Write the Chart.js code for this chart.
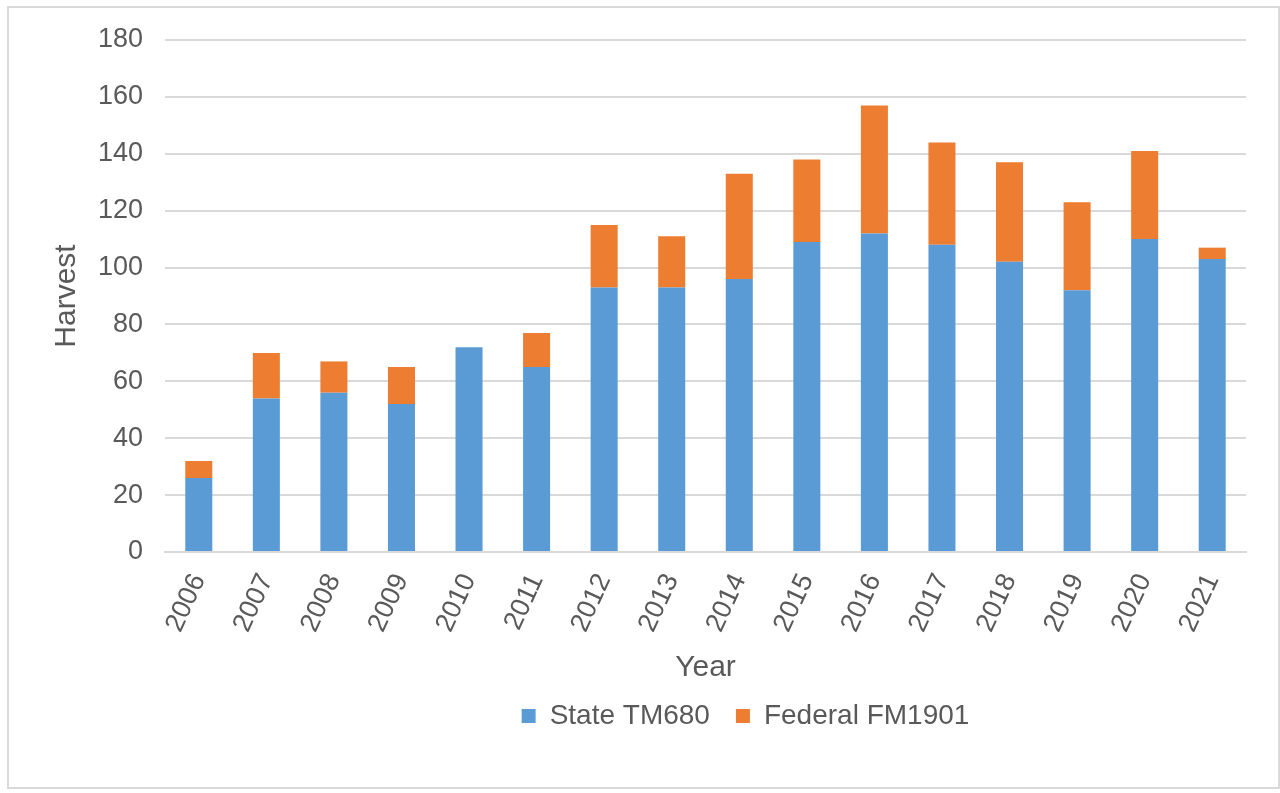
<!DOCTYPE html>
<html>
<head>
<meta charset="utf-8">
<script src="https://cdn.jsdelivr.net/npm/chart.js@4.4.1/dist/chart.umd.min.js"></script>
<style>
  html, body { margin: 0; padding: 0; background: #ffffff; }
  #wrap { position: relative; width: 1280px; height: 793px; }
  #frame {
    position: absolute; left: 7px; top: 6px; width: 1269px; height: 779px;
    border: 2px solid #d9d9d9; pointer-events: none;
  }
  canvas { position: absolute; left: 0; top: 0; }
</style>
</head>
<body>
<div id="wrap">
  <canvas id="chart" width="1280" height="793"></canvas>
  <div id="frame"></div>
</div>
<script>
// Harvest by year, split by permit type
const years = ['2006', '2007', '2008', '2009', '2010', '2011', '2012', '2013',
               '2014', '2015', '2016', '2017', '2018', '2019', '2020', '2021'];
const stateTM680 = [26, 54, 56, 52, 72, 65, 93, 93, 96, 109, 112, 108, 102, 92, 110, 103];
const federalFM1901 = [6, 16, 11, 13, 0, 12, 22, 18, 37, 29, 45, 36, 35, 31, 31, 4];
const yTicks = [0, 20, 40, 60, 80, 100, 120, 140, 160, 180];

const seriesNames = ['State TM680', 'Federal FM1901'];
const textColor = '#595959';
const gridColor = '#d9d9d9';
const fontFamily = '"Liberation Sans", Arial, sans-serif';

// Moves the legend block after layout so it sits under the bars
const legendShift = {
  id: 'legendShift',
  afterLayout(chart, args, opts) {
    const lg = chart.legend;
    if (!lg) return;
    lg.left += opts.dx; lg.right += opts.dx;
    lg.top += opts.dy; lg.bottom += opts.dy;
  }
};

new Chart(document.getElementById('chart'), {
  type: 'bar',
  data: {
    labels: years,
    datasets: [
      { label: seriesNames[0], data: stateTM680, backgroundColor: '#5b9bd5',
        categoryPercentage: 1.0, barPercentage: 0.4 },
      { label: seriesNames[1], data: federalFM1901, backgroundColor: '#ed7d31',
        categoryPercentage: 1.0, barPercentage: 0.4 }
    ]
  },
  plugins: [legendShift],
  options: {
    responsive: false,
    animation: false,
    devicePixelRatio: 1,
    layout: { padding: { left: 49, right: 34, top: 40, bottom: 37 } },
    plugins: {
      tooltip: { enabled: false },
      legendShift: { dx: 98, dy: -16 },
      legend: {
        position: 'bottom',
        labels: {
          color: textColor,
          font: { family: fontFamily, size: 28 },
          boxWidth: 14, boxHeight: 14,
          padding: 26
        }
      }
    },
    scales: {
      x: {
        stacked: true,
        grid: { display: false, drawTicks: false },
        border: { display: true, color: gridColor, width: 2 },
        ticks: {
          color: textColor,
          font: { family: fontFamily, size: 27 },
          minRotation: 65, maxRotation: 65,
          padding: 17
        },
        title: {
          display: true, text: 'Year', color: textColor,
          font: { family: fontFamily, size: 30 },
          padding: { top: 0, bottom: 6 }
        },
        afterFit(scale) { scale.height = 140; }
      },
      y: {
        stacked: true,
        min: 0, max: 180,
        grid: { color: gridColor, lineWidth: 2, drawTicks: false },
        border: { display: false },
        afterBuildTicks(scale) { scale.ticks = yTicks.map(v => ({ value: v })); },
        ticks: {
          color: textColor,
          font: { family: fontFamily, size: 27 },
          padding: 22
        },
        title: {
          display: true, text: 'Harvest', color: textColor,
          font: { family: fontFamily, size: 30 },
          padding: { top: 0, bottom: 0 }
        },
        afterFit(scale) { scale.width = 116; }
      }
    }
  }
});
</script>
</body>
</html>
